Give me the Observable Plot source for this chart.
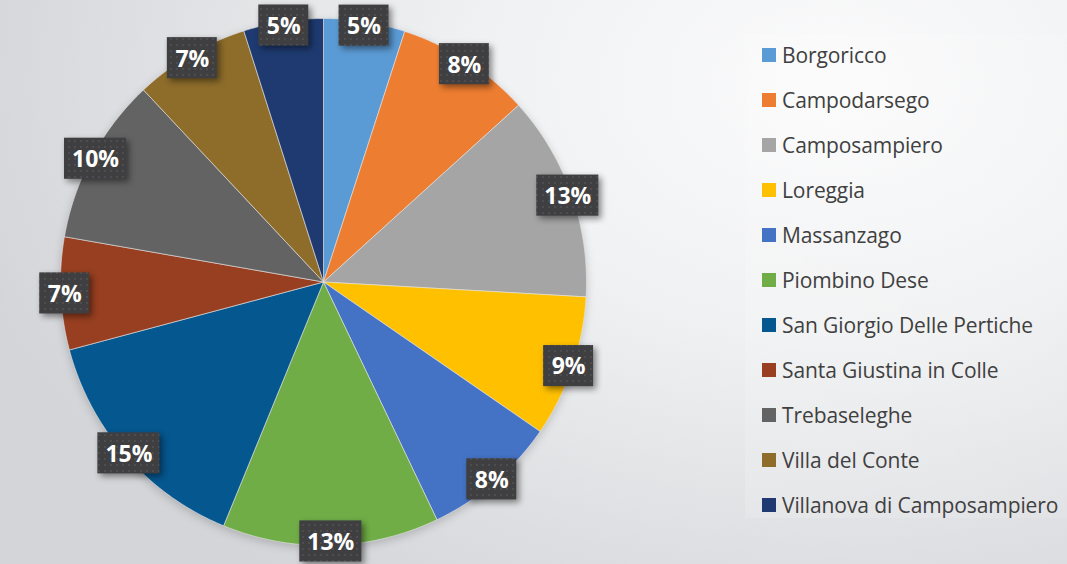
<!DOCTYPE html>
<html>
<head>
<meta charset="utf-8">
<script src="https://cdn.jsdelivr.net/npm/d3@7"></script>
<script src="https://cdn.jsdelivr.net/npm/@observablehq/plot@0.6"></script>
<style>
  html, body { margin: 0; padding: 0; }
  #wrap {
    position: relative; width: 1067px; height: 564px; overflow: hidden;
    background: radial-gradient(ellipse 900px 620px at 78% 15%, #fbfbfc 0%, #f0f1f2 40%, #dfe0e3 75%, #d3d5d8 100%);
    font-family: "Open Sans", sans-serif;
  }
  #panel { position: absolute; left: 745px; top: 34px; width: 330px; height: 484px;
    background: linear-gradient(90deg, rgba(255,255,255,0.15), rgba(255,255,255,0.08)); }
  #chart { position: absolute; left: 0; top: 0; }
  #legend { position: absolute; left: 762px; top: 32px; }
  .row { height: 45px; display: flex; align-items: center; }
  .sw { width: 14px; height: 14px; margin-right: 6px; flex: none; }
  .lab { font-size: 21px; color: #404040; white-space: nowrap; letter-spacing: -0.1px; }
</style>
</head>
<body>
<div id="wrap"><div id="panel"></div><div id="chart"></div><div id="legend"></div></div>
<script>
const names = ["Borgoricco", "Campodarsego", "Camposampiero", "Loreggia", "Massanzago",
  "Piombino Dese", "San Giorgio Delle Pertiche", "Santa Giustina in Colle",
  "Trebaseleghe", "Villa del Conte", "Villanova di Camposampiero"];
const shares = [5.0, 8.3, 12.6, 8.7, 8.3, 13.3, 14.65, 6.9, 10.25, 7.1, 4.9];
const colors = ["#5B9BD5", "#ED7D31", "#A5A5A5", "#FFC000", "#4472C4", "#70AD47",
  "#05578F", "#983F21", "#636363", "#8E6D2B", "#1E3A70"];

const data = names.map((n, i) => ({name: n, value: shares[i]}));
const arcs = d3.pie().sort(null).value(d => d.value)(data);

// slice outlines in unit coordinates (angle measured clockwise from 12 o'clock)
const pts = [];
arcs.forEach(a => {
  const n = a.data.name;
  pts.push({name: n, x: 0, y: 0});
  const steps = Math.max(2, Math.ceil((a.endAngle - a.startAngle) / 0.01));
  for (let k = 0; k <= steps; k++) {
    const t = a.startAngle + (a.endAngle - a.startAngle) * k / steps;
    pts.push({name: n, x: Math.sin(t), y: Math.cos(t)});
  }
  pts.push({name: n, x: 0, y: 0});
});

const total = d3.sum(shares);
const labels = arcs.map(a => {
  const m = (a.startAngle + a.endAngle) / 2;
  const txt = Math.round(a.data.value / total * 100) + "%";
  const hw = txt.length > 2 ? 0.118 : 0.095;
  return {name: a.data.name, x: 0.985 * Math.sin(m), y: 0.985 * Math.cos(m), txt, hw};
});
const hh = 0.078;

const plot = Plot.plot({
  width: 700, height: 564,
  marginLeft: 60, marginRight: 114, marginTop: 18, marginBottom: 19,
  x: {domain: [-1, 1], axis: null},
  y: {domain: [-1, 1], axis: null},
  color: {type: "ordinal", domain: names, range: colors},
  style: {background: "transparent", overflow: "visible"},
  marks: [
    Plot.line(pts, {x: "x", y: "y", z: "name", fill: "name", stroke: "#e6e6e6", strokeWidth: 0.6, curve: "linear"}),
    Plot.rect(labels, {x1: d => d.x - d.hw, x2: d => d.x + d.hw, y1: d => d.y - hh, y2: d => d.y + hh, fill: "url(#dots)"}),
    Plot.text(labels, {x: "x", y: "y", text: "txt", fill: "white", fontSize: 23, fontWeight: "bold", fontFamily: "Open Sans", dy: 1})
  ]
});
document.getElementById("chart").appendChild(plot);

const svg = d3.select(plot);
const defs = svg.insert("defs", ":first-child");
const pat = defs.append("pattern").attr("id", "dots").attr("patternUnits", "userSpaceOnUse")
  .attr("width", 6).attr("height", 6);
pat.append("rect").attr("width", 6).attr("height", 6).attr("fill", "#3f3f41");
pat.append("circle").attr("cx", 3).attr("cy", 3).attr("r", 0.9).attr("fill", "#545457");
svg.selectAll('g[aria-label="rect"]').style("filter", "drop-shadow(3px 3px 3px rgba(0,0,0,0.45))");
svg.selectAll('g[aria-label="line"]').style("filter", "drop-shadow(0px 3px 4px rgba(0,0,0,0.18))");

const leg = d3.select("#legend");
names.forEach((n, i) => {
  const r = leg.append("div").attr("class", "row");
  r.append("div").attr("class", "sw").style("background", colors[i]);
  r.append("div").attr("class", "lab").text(n);
});
</script>
</body>
</html>
